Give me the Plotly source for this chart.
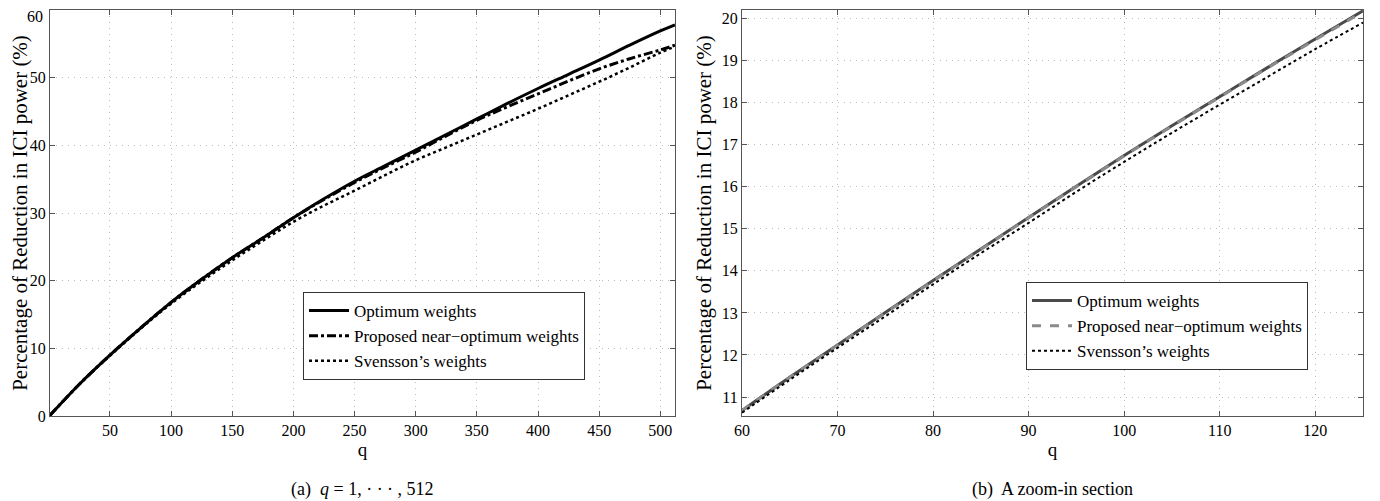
import plotly.graph_objects as go

# ---------------- data ----------------
q_full = [1, 25, 50, 75, 100, 125, 150, 175, 200, 225, 250, 275, 300, 325, 350,
          375, 400, 425, 450, 475, 500, 512]
opt_full = [0.1, 4.7, 9.0, 13.0, 16.8, 20.2, 23.4, 26.3, 29.3, 32.1, 34.7, 37.0,
            39.3, 41.6, 43.9, 46.2, 48.4, 50.5, 52.6, 54.8, 56.9, 57.8]
prop_full = [0.1, 4.7, 9.0, 13.0, 16.8, 20.2, 23.4, 26.3, 29.3, 32.0, 34.5, 36.8,
             39.0, 41.4, 43.7, 45.7, 47.6, 49.5, 51.3, 52.8, 54.1, 54.8]
svn_full = [0.1, 4.7, 8.9, 12.9, 16.6, 19.9, 23.0, 25.9, 28.7, 31.1, 33.3, 35.6,
            37.8, 39.7, 41.6, 43.5, 45.4, 47.4, 49.4, 51.5, 53.7, 54.6]

q_zoom = [60, 65, 70, 75, 80, 85, 90, 95, 100, 105, 110, 115, 120, 125]
opt_zoom = [10.68, 11.47, 12.24, 13.01, 13.77, 14.52, 15.27, 16.01, 16.74, 17.45,
            18.14, 18.83, 19.51, 20.18]
prop_zoom = [10.68, 11.47, 12.24, 13.00, 13.76, 14.51, 15.26, 16.00, 16.73, 17.44,
             18.13, 18.82, 19.49, 20.16]
svn_zoom = [10.63, 11.41, 12.17, 12.92, 13.68, 14.42, 15.14, 15.88, 16.59, 17.28,
            17.95, 18.61, 19.27, 19.90]

names = ["Optimum weights", "Proposed near\u2212optimum weights", "Svensson\u2019s weights"]
xticks_full = [50, 100, 150, 200, 250, 300, 350, 400, 450, 500]
yticks_full = [0, 10, 20, 30, 40, 50, 60]
xticks_zoom = [60, 70, 80, 90, 100, 110, 120]
yticks_zoom = [11, 12, 13, 14, 15, 16, 17, 18, 19, 20]
ylabel = "Percentage of Reduction in ICI power (%)"
caption_a = "(a)  <i>q</i> = 1, \u00b7 \u00b7 \u00b7 , 512"
caption_b = "(b)  A zoom-in section"

FONT = "Liberation Serif"
OFF = 8                      # the page body has an 8px margin
W, H = 1380 - OFF, 501 - OFF

fig = go.Figure()

# left panel
fig.add_trace(go.Scatter(x=q_full, y=opt_full, mode="lines", name=names[0],
                         line=dict(color="black", width=3, shape="spline"),
                         xaxis="x", yaxis="y", legend="legend"))
fig.add_trace(go.Scatter(x=q_full, y=prop_full, mode="lines", name=names[1],
                         line=dict(color="black", width=3, dash="dashdot", shape="spline"),
                         xaxis="x", yaxis="y", legend="legend"))
fig.add_trace(go.Scatter(x=q_full, y=svn_full, mode="lines", name=names[2],
                         line=dict(color="black", width=2.5, dash="dot", shape="spline"),
                         xaxis="x", yaxis="y", legend="legend"))

# right panel
fig.add_trace(go.Scatter(x=q_zoom, y=opt_zoom, mode="lines", name=names[0],
                         line=dict(color="#4a4a4a", width=3, shape="spline"),
                         xaxis="x2", yaxis="y2", legend="legend2"))
fig.add_trace(go.Scatter(x=q_zoom, y=prop_zoom, mode="lines", name=names[1],
                         line=dict(color="#8a8a8a", width=3, dash="dash", shape="spline"),
                         xaxis="x2", yaxis="y2", legend="legend2"))
fig.add_trace(go.Scatter(x=q_zoom, y=svn_zoom, mode="lines", name=names[2],
                         line=dict(color="black", width=2, dash="dot", shape="spline"),
                         xaxis="x2", yaxis="y2", legend="legend2"))

def px_x(p):
    return (p - OFF) / W

def px_y(p):
    return 1 - (p - OFF) / H

axis_common = dict(
    showline=True, linecolor="#555555", linewidth=1.2, mirror="allticks",
    ticks="inside", ticklen=5, tickcolor="#555555", automargin=False,
    showgrid=True, gridcolor="#bdbdbd", griddash="1px,5px", gridwidth=1,
    zeroline=False, tickfont=dict(family=FONT, size=16, color="black"),
)

ydom = [px_y(416), px_y(10)]
xtitle_font = dict(family=FONT, size=19, color="black")
ytitle_font = dict(family=FONT, size=21, color="black")

# the top tick label of the left panel would be clipped by the page edge,
# so it is drawn as an annotation nudged a few pixels lower
top_left_tick = yticks_full[-1]
ytext_full = [str(v) if v != top_left_tick else "" for v in yticks_full]

fig.update_layout(
    width=W, height=H,
    margin=dict(l=0, r=0, t=0, b=0, autoexpand=False),
    paper_bgcolor="white", plot_bgcolor="white",
    font=dict(family=FONT, size=16, color="black"),
    xaxis=dict(domain=[px_x(50), px_x(675)], range=[1, 512], tickvals=xticks_full,
               title=dict(text="q", font=xtitle_font, standoff=4),
               anchor="y", **axis_common),
    yaxis=dict(domain=ydom, range=[0, 60], tickvals=yticks_full, ticktext=ytext_full,
               title=dict(text=ylabel, font=ytitle_font, standoff=4),
               anchor="x", **axis_common),
    xaxis2=dict(domain=[px_x(742), px_x(1363)], range=[60, 125], tickvals=xticks_zoom,
                title=dict(text="q", font=xtitle_font, standoff=4),
                anchor="y2", **axis_common),
    yaxis2=dict(domain=ydom, range=[10.55, 20.2], tickvals=yticks_zoom,
                title=dict(text=ylabel, font=ytitle_font, standoff=4),
                anchor="x2", **axis_common),
    legend=dict(x=px_x(303), y=px_y(292), xanchor="left", yanchor="top",
                bgcolor="white", bordercolor="#333333", borderwidth=1,
                font=dict(family=FONT, size=17, color="black"), tracegroupgap=0,
                itemwidth=40),
    legend2=dict(x=px_x(1026), y=px_y(282), xanchor="left", yanchor="top",
                 bgcolor="white", bordercolor="#333333", borderwidth=1,
                 font=dict(family=FONT, size=17, color="black"), tracegroupgap=0,
                 itemwidth=40),
    showlegend=True,
    annotations=[
        dict(text=str(top_left_tick), x=px_x(45), y=top_left_tick, xref="paper", yref="y",
             showarrow=False, font=dict(family=FONT, size=16, color="black"),
             xanchor="right", yanchor="middle", yshift=-6),
        dict(text=caption_a, x=px_x(362), y=px_y(489), xref="paper", yref="paper",
             showarrow=False, font=dict(family=FONT, size=18), xanchor="center", yanchor="middle"),
        dict(text=caption_b, x=px_x(1052), y=px_y(489), xref="paper", yref="paper",
             showarrow=False, font=dict(family=FONT, size=18), xanchor="center", yanchor="middle"),
    ],
)

fig.write_html("out.html")
